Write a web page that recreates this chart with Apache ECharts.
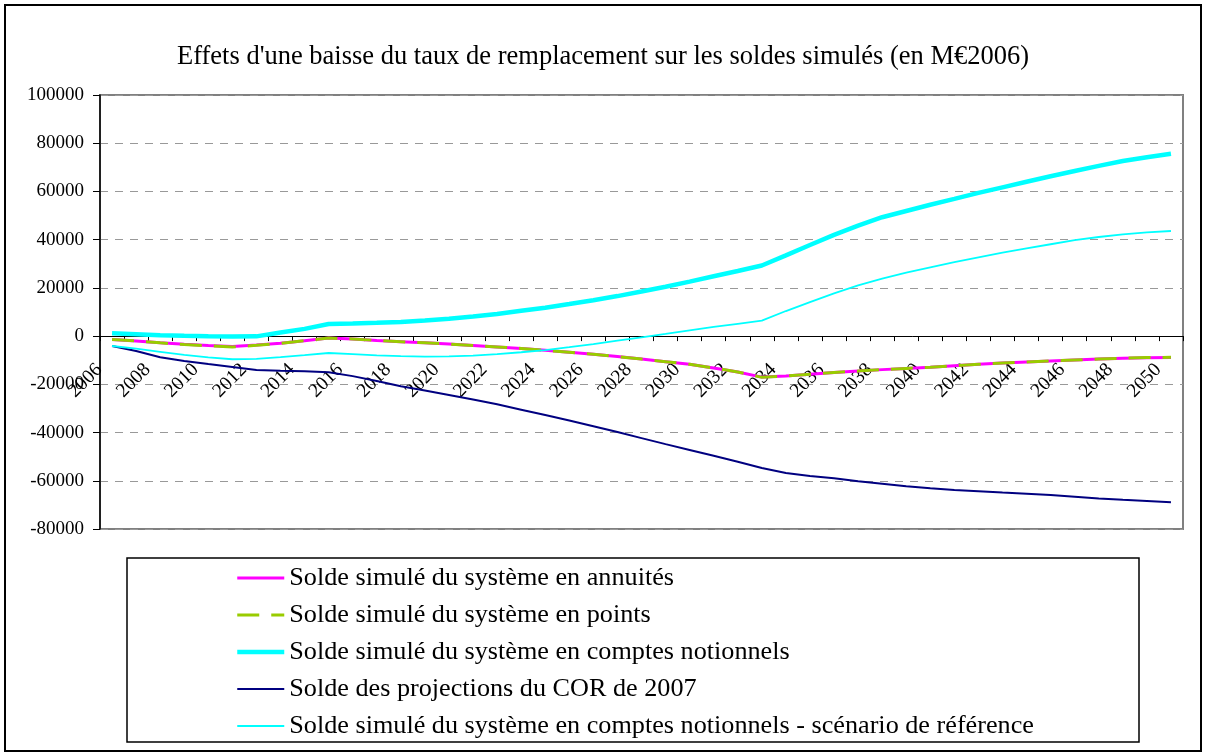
<!DOCTYPE html>
<html>
<head>
<meta charset="utf-8">
<script src="https://cdn.jsdelivr.net/npm/echarts@6/dist/echarts.min.js"></script>
<style>
  html, body { margin: 0; padding: 0; background: #fff; }
  #chart { width: 1206px; height: 756px; }
</style>
</head>
<body>
<div id="chart"></div>
<script>
// Years of the projection
const years = [
  '2006','2007','2008','2009','2010','2011','2012','2013','2014','2015',
  '2016','2017','2018','2019','2020','2021','2022','2023','2024','2025',
  '2026','2027','2028','2029','2030','2031','2032','2033','2034','2035',
  '2036','2037','2038','2039','2040','2041','2042','2043','2044','2045',
  '2046','2047','2048','2049','2050'
];

// Simulated balances, M€2006
const soldeAnnuites = [
  -1400, -2000, -2800, -3400, -3900, -4300, -3700, -3000, -1900, -800,
  -1200, -1800, -2300, -2800, -3300, -3900, -4500, -5100, -5900, -6700,
  -7500, -8500, -9500, -10600, -11700, -13200, -14900, -17000, -16500, -15800,
  -15100, -14500, -13900, -13400, -12900, -12300, -11700, -11200, -10700, -10300,
  -9900, -9500, -9200, -9000, -8900
];
const soldePoints = [
  -1400, -2000, -2800, -3500, -4000, -4500, -3800, -3000, -1900, -800,
  -1200, -1800, -2300, -2800, -3300, -3900, -4500, -5100, -5900, -6700,
  -7500, -8500, -9500, -10600, -11700, -13200, -14900, -17100, -16500, -15800,
  -15100, -14500, -13900, -13400, -12900, -12300, -11700, -11200, -10700, -10300,
  -9900, -9500, -9200, -8900, -8800
];
const soldeNotionnels = [
  1200, 800, 400, 100, -100, -200, -100, 1500, 3000, 5000,
  5200, 5500, 5900, 6500, 7200, 8100, 9200, 10500, 11800, 13300,
  14900, 16600, 18500, 20500, 22600, 24800, 27000, 29300, 33500, 37800,
  42000, 45800, 49300, 51900, 54500, 56900, 59400, 61700, 64000, 66300,
  68500, 70600, 72600, 74200, 75600
];
const soldeCOR2007 = [
  -4100, -6200, -8800, -10300, -11600, -12800, -14100, -14400, -14600, -15000,
  -16600, -18600, -20800, -22600, -24400, -26300, -28300, -30500, -32700, -35000,
  -37400, -39800, -42300, -44800, -47200, -49600, -52100, -54700, -56800, -58000,
  -59000, -60200, -61200, -62300, -63100, -63800, -64300, -64900, -65400, -65900,
  -66600, -67300, -67900, -68400, -68900
];
const soldeNotionnelsRef = [
  -4100, -5200, -6500, -7800, -8800, -9600, -9400, -8700, -7900, -7000,
  -7500, -8000, -8300, -8500, -8400, -8100, -7500, -6700, -5800, -4600,
  -3300, -1900, -500, 900, 2400, 3800, 5100, 6400, 10400, 14100,
  17700, 21000, 23800, 26300, 28500, 30700, 32700, 34600, 36400, 38100,
  39800, 41100, 42200, 43000, 43600
];

// Axis range
const yMin = -80000, yMax = 100000, yStep = 20000;

const serif = '"Liberation Serif", "Times New Roman", serif';

const series = [
  { name: 'Solde simulé du système en annuités', data: soldeAnnuites, color: '#FF00FF', width: 3, type: 'solid' },
  { name: 'Solde simulé du système en points', data: soldePoints, color: '#99CC00', width: 3, type: [22, 12] },
  { name: 'Solde simulé du système en comptes notionnels', data: soldeNotionnels, color: '#00FFFF', width: 4.5, type: 'solid' },
  { name: 'Solde des projections du COR de 2007', data: soldeCOR2007, color: '#000080', width: 2, type: 'solid' },
  { name: 'Solde simulé du système en comptes notionnels - scénario de référence', data: soldeNotionnelsRef, color: '#00FFFF', width: 1.8, type: 'solid' }
];

// Plot area geometry
const gridTop = 95, gridBottom = 227, chartH = 756;
const plotH = chartH - gridTop - gridBottom;
// Distance from the bottom of the plot to the zero line, so the category axis crosses at 0
const zeroOffset = plotH * (0 - yMin) / (yMax - yMin);

const chart = echarts.init(document.getElementById('chart'), null, { renderer: 'canvas' });

chart.setOption({
  animation: false,
  backgroundColor: '#fff',
  title: {
    text: "Effets d'une baisse du taux de remplacement sur les soldes simulés (en M€2006)",
    left: 'center',
    top: 39,
    textStyle: { fontFamily: serif, fontSize: 26.5, fontWeight: 'normal', color: '#000' }
  },
  graphic: [
    { type: 'rect', shape: { x: 5, y: 5, width: 1196, height: 746 }, style: { fill: null, stroke: '#000', lineWidth: 2 }, z: 0 },
    { type: 'rect', shape: { x: 127, y: 558, width: 1012, height: 184 }, style: { fill: null, stroke: '#000', lineWidth: 1.5 }, z: 0 }
  ],
  legend: {
    orient: 'vertical',
    left: 235,
    top: 565,
    padding: 0,
    itemWidth: 47,
    itemHeight: 26,
    itemGap: 11,
    textStyle: { fontFamily: serif, fontSize: 26.2, color: '#000' },
    data: series.map(s => ({
      name: s.name,
      itemStyle: { color: 'rgba(0,0,0,0)', borderColor: 'rgba(0,0,0,0)', borderWidth: 0, opacity: 0 },
      lineStyle: { color: s.color, width: s.width, type: s.type, opacity: 1 }
    }))
  },
  grid: {
    left: 100, right: 23, top: gridTop, bottom: gridBottom,
    show: true, borderColor: '#808080', borderWidth: 2, backgroundColor: '#fff'
  },
  xAxis: {
    type: 'category',
    data: years,
    boundaryGap: true,
    offset: -zeroOffset,
    axisLine: { onZero: false, lineStyle: { color: '#000', width: 1 } },
    axisTick: { show: true, interval: 0, length: 5, lineStyle: { color: '#000', width: 1 } },
    axisLabel: {
      interval: 1,
      rotate: 45,
      margin: 18,
      padding: [0, 18, 0, 0],
      fontFamily: serif,
      fontSize: 19.5,
      color: '#000'
    },
    splitLine: { show: false }
  },
  yAxis: {
    type: 'value',
    min: yMin, max: yMax, interval: yStep,
    axisLine: { show: true, lineStyle: { color: '#000', width: 1.5 } },
    axisTick: { show: true, length: 7, lineStyle: { color: '#000', width: 1 } },
    axisLabel: {
      margin: 16,
      fontFamily: serif,
      fontSize: 19,
      color: '#000',
      formatter: v => String(v)
    },
    splitLine: { show: true, lineStyle: { color: '#999', width: 1, type: [8, 7] } }
  },
  series: series.map(s => ({
    name: s.name,
    type: 'line',
    data: s.data,
    showSymbol: false,
    symbol: 'none',
    smooth: false,
    color: s.color,
    lineStyle: { color: s.color, width: s.width, type: s.type }
  }))
});
</script>
</body>
</html>
